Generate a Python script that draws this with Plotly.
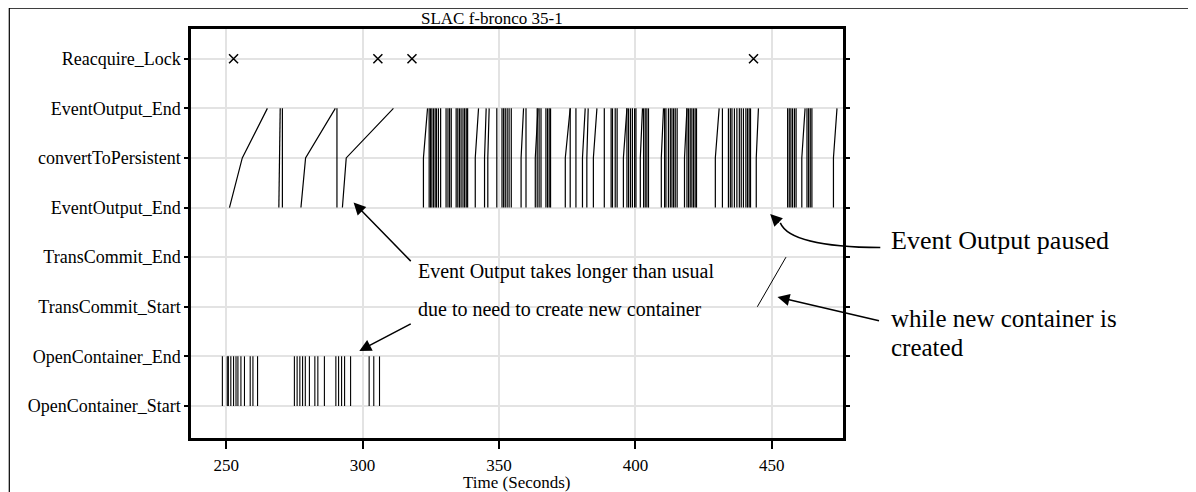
import plotly.graph_objects as go

# ---------------- data ----------------
row_labels = ["OpenContainer_Start", "OpenContainer_End", "TransCommit_Start", "TransCommit_End",
              "EventOutput_End", "convertToPersistent", "EventOutput_End", "Reacquire_Lock"]
row_values = [0, 1, 2, 3, 4, 5, 6, 7]
x_ticks = [250, 300, 350, 400, 450]

# event output: time at lower EventOutput_End, convertToPersistent, upper EventOutput_End
eo_start = [251.2, 269.3, 270.6, 277.4, 290.6, 292.6,
            322.3, 324.4, 324.9, 325.4, 326.0, 326.6, 327.1, 327.8, 328.6,
            330.6, 331.3, 331.9, 332.5, 334.3, 334.9, 335.5, 336.1, 336.8, 337.4, 338.0, 338.5,
            341.3, 344.7, 345.9, 349.2, 351.1, 351.7, 352.3, 353.0, 353.7, 354.5,
            358.1, 359.9, 363.3, 364.0, 364.7, 365.4, 367.2, 367.8, 368.4, 368.9,
            374.3, 376.1, 378.2, 380.6, 382.2, 384.6, 388.6, 391.1, 391.6, 392.6, 393.3,
            395.6, 396.9, 397.5, 398.2, 398.9, 399.7, 400.2, 401.8, 403.0, 403.6, 404.2, 404.8,
            409.5, 410.7, 411.2, 412.1, 412.8, 413.4, 414.0, 414.6, 415.3,
            418.0, 418.9, 419.5, 420.1, 420.7, 421.3, 421.9, 422.4,
            429.3, 431.9, 434.1, 434.8, 435.4, 436.3, 437.2, 438.1, 438.8, 439.6,
            440.5, 441.1, 441.7, 442.2, 444.3,
            455.8, 456.4, 457.0, 457.6, 458.3, 458.9, 461.0, 462.9, 463.5, 464.1, 464.7, 472.6]
eo_convert = [255.9, 269.5, 270.6, 279.1, 290.6, 294.0,
              322.3, 324.4, 324.9, 325.4, 326.0, 326.6, 327.1, 327.8, 328.6,
              330.6, 331.3, 331.9, 332.5, 334.3, 334.9, 335.5, 336.1, 336.8, 337.4, 338.0, 338.5,
              341.3, 344.7, 345.9, 349.2, 351.1, 351.7, 352.3, 353.0, 353.7, 354.5,
              358.1, 359.9, 363.3, 364.0, 364.7, 365.4, 367.2, 367.8, 368.4, 368.9,
              374.3, 376.1, 378.2, 380.6, 382.2, 384.6, 388.6, 391.1, 391.6, 392.6, 393.3,
              395.6, 396.9, 397.5, 398.2, 398.9, 399.7, 400.2, 401.8, 403.0, 403.6, 404.2, 404.8,
              409.5, 410.7, 411.2, 412.1, 412.8, 413.4, 414.0, 414.6, 415.3,
              418.0, 418.9, 419.5, 420.1, 420.7, 421.3, 421.9, 422.4,
              429.3, 431.9, 434.1, 434.8, 435.4, 436.3, 437.2, 438.1, 438.8, 439.6,
              440.5, 441.1, 441.7, 442.2, 444.3,
              455.8, 456.4, 457.0, 457.6, 458.3, 458.9, 461.0, 462.9, 463.5, 464.1, 464.7, 472.6]
eo_end = [265.1, 269.8, 270.6, 290.0, 290.6, 311.3,
          323.8, 324.4, 324.9, 325.4, 326.0, 326.6, 327.1, 327.8, 328.6,
          330.6, 331.3, 331.9, 332.5, 334.3, 334.9, 335.5, 336.1, 336.8, 337.4, 338.0, 338.5,
          342.5, 345.3, 346.4, 349.2, 351.1, 351.7, 352.3, 353.0, 353.7, 354.5,
          359.0, 359.9, 364.3, 364.0, 364.7, 365.4, 367.2, 367.8, 368.4, 368.9,
          376.1, 376.1, 378.2, 381.6, 382.7, 385.9, 388.6, 391.1, 391.6, 392.6, 393.3,
          396.9, 396.9, 397.5, 398.2, 398.9, 399.7, 400.2, 402.6, 403.0, 403.6, 404.2, 404.8,
          410.3, 410.7, 411.2, 412.1, 412.8, 413.4, 414.0, 414.6, 415.3,
          418.9, 418.9, 419.5, 420.1, 420.7, 421.3, 421.9, 422.4,
          430.7, 431.9, 434.1, 434.8, 435.4, 436.3, 437.2, 438.1, 438.8, 439.6,
          440.5, 441.1, 441.7, 442.2, 445.1,
          455.8, 456.4, 457.0, 457.6, 458.3, 458.9, 462.2, 462.9, 463.5, 464.1, 464.7, 473.9]

open_container = [248.6, 250.4, 250.8, 251.7, 252.7, 253.6, 254.3, 255.4, 256.7, 258.8, 259.8, 261.5,
                  275.0, 276.0, 277.0, 278.0, 279.0, 280.5, 282.5, 283.6, 286.0,
                  290.2, 291.2, 292.3, 293.4, 295.6,
                  302.4, 304.1, 306.2]

trans_commit_start = [444.7]
trans_commit_end = [455.2]

reacquire_lock = [252.7, 305.6, 318.1, 443.3]

# ---------------- build traces ----------------
FONT = "Liberation Serif, Times New Roman, serif"

ex, ey = [], []
for a, b, c in zip(eo_start, eo_convert, eo_end):
    ex += [a, b, c, None]
    ey += [row_values[4], row_values[5], row_values[6], None]

ox, oy = [], []
for t in open_container:
    ox += [t, t, None]
    oy += [row_values[0], row_values[1], None]

tx, ty = [], []
for a, b in zip(trans_commit_start, trans_commit_end):
    tx += [a, b, None]
    ty += [row_values[2], row_values[3], None]

fig = go.Figure()
fig.add_trace(go.Scatter(x=ex, y=ey, mode="lines", line=dict(color="black", width=1.2),
                         hoverinfo="skip", showlegend=False))
fig.add_trace(go.Scatter(x=ox, y=oy, mode="lines", line=dict(color="black", width=1.1),
                         hoverinfo="skip", showlegend=False))
fig.add_trace(go.Scatter(x=tx, y=ty, mode="lines", line=dict(color="black", width=1),
                         hoverinfo="skip", showlegend=False))
fig.add_trace(go.Scatter(x=reacquire_lock, y=[row_values[7]] * len(reacquire_lock), mode="markers",
                         marker=dict(symbol="x-thin", size=9, line=dict(color="black", width=1.5)),
                         hoverinfo="skip", showlegend=False))

# ---------------- layout ----------------
# page has an 8px body margin: screen = figure + 8
OFF = 8
W, H = 1188, 484
L = 190.7 - OFF
T = 29.3 - OFF
R = W - (842.7 - OFF)
B = H - (438 - OFF)
pw, ph = W - L - R, H - T - B


def px(xs):
    """screen x pixel -> paper"""
    return (xs - OFF - L) / pw


def py(ys):
    """screen y pixel -> paper"""
    return (H - B - (ys - OFF)) / ph


fig.update_layout(
    width=W, height=H,
    margin=dict(l=L, r=R, t=T, b=B, pad=0),
    paper_bgcolor="white", plot_bgcolor="white",
    font=dict(family=FONT, color="black", size=17),
)
fig.update_xaxes(range=[237.1, 476.1], tickvals=x_ticks, ticktext=[str(v) for v in x_ticks],
                 showgrid=True, gridcolor="#e3e3e3", gridwidth=2, zeroline=False,
                 showline=True, linecolor="black", linewidth=2.5, mirror=True,
                 ticks="outside", ticklen=8, tickwidth=2, tickcolor="black",
                 ticklabelstandoff=2,
                 tickfont=dict(family=FONT, size=17, color="black"))
fig.update_yaxes(range=[-0.646, 7.6], tickvals=row_values, ticktext=row_labels,
                 showgrid=True, gridcolor="#e3e3e3", gridwidth=2, zeroline=False,
                 showline=True, linecolor="black", linewidth=2.5, mirror="ticks",
                 ticks="outside", ticklen=4, tickwidth=2, tickcolor="black",
                 tickfont=dict(family=FONT, size=18, color="black"))

# outer frame (top and left edges)
fig.add_shape(type="path", xref="paper", yref="paper",
              path=f"M {px(1210)},{py(8.5)} L {px(9)},{py(8.5)} L {px(9)},{py(510)}",
              line=dict(color="black", width=1.2), layer="above")

ann = []
ann.append(dict(text="SLAC f-bronco 35-1", xref="paper", yref="paper", x=px(492), y=py(19),
                xanchor="center", yanchor="middle", showarrow=False,
                font=dict(family=FONT, size=17, color="black")))
ann.append(dict(text="Time (Seconds)", xref="paper", yref="paper", x=px(517), y=py(482),
                xanchor="center", yanchor="middle", showarrow=False,
                font=dict(family=FONT, size=17, color="black")))

# callouts inside the plot
ann.append(dict(text="Event Output takes longer than usual", xref="paper", yref="paper",
                x=px(416), y=py(272), xanchor="left", yanchor="middle", showarrow=False,
                font=dict(family=FONT, size=20, color="black")))
ann.append(dict(text="due to need to create new container", xref="paper", yref="paper",
                x=px(416), y=py(309), xanchor="left", yanchor="middle", showarrow=False,
                font=dict(family=FONT, size=20, color="black")))
ann.append(dict(text="", x=296.7, y=4.10, xref="x", yref="y", ax=318.2, ay=2.89, axref="x", ayref="y",
                showarrow=True, arrowhead=2, arrowsize=1.6, arrowwidth=1.5, arrowcolor="black"))
ann.append(dict(text="", x=298.8, y=1.11, xref="x", yref="y", ax=318.2, ay=1.67, axref="x", ayref="y",
                showarrow=True, arrowhead=2, arrowsize=1.6, arrowwidth=1.5, arrowcolor="black"))

# right-hand callouts
ann.append(dict(text="Event Output paused", xref="paper", yref="paper", x=px(889), y=py(241),
                xanchor="left", yanchor="middle", showarrow=False,
                font=dict(family=FONT, size=26, color="black")))
ann.append(dict(text="while new container is", xref="paper", yref="paper", x=px(889), y=py(319),
                xanchor="left", yanchor="middle", showarrow=False,
                font=dict(family=FONT, size=25, color="black")))
ann.append(dict(text="created", xref="paper", yref="paper", x=px(889), y=py(348),
                xanchor="left", yanchor="middle", showarrow=False,
                font=dict(family=FONT, size=25, color="black")))
ann.append(dict(text="", x=452.1, y=2.195, xref="x", yref="y", ax=103, ay=24,
                showarrow=True, arrowhead=2, arrowsize=1.6, arrowwidth=1.5, arrowcolor="black"))
# curved arrow head
ann.append(dict(text="", x=449.4, y=3.87, xref="x", yref="y", ax=10, ay=10,
                showarrow=True, arrowhead=2, arrowsize=1.6, arrowwidth=1.5, arrowcolor="black"))
fig.update_layout(annotations=ann)

fig.add_shape(type="path", xref="paper", yref="paper",
              path=f"M {px(880)},{py(247.7)} Q {px(790)},{py(247)} {px(780)},{py(223)}",
              line=dict(color="black", width=1.5), layer="above")

fig.write_html("out.html")
